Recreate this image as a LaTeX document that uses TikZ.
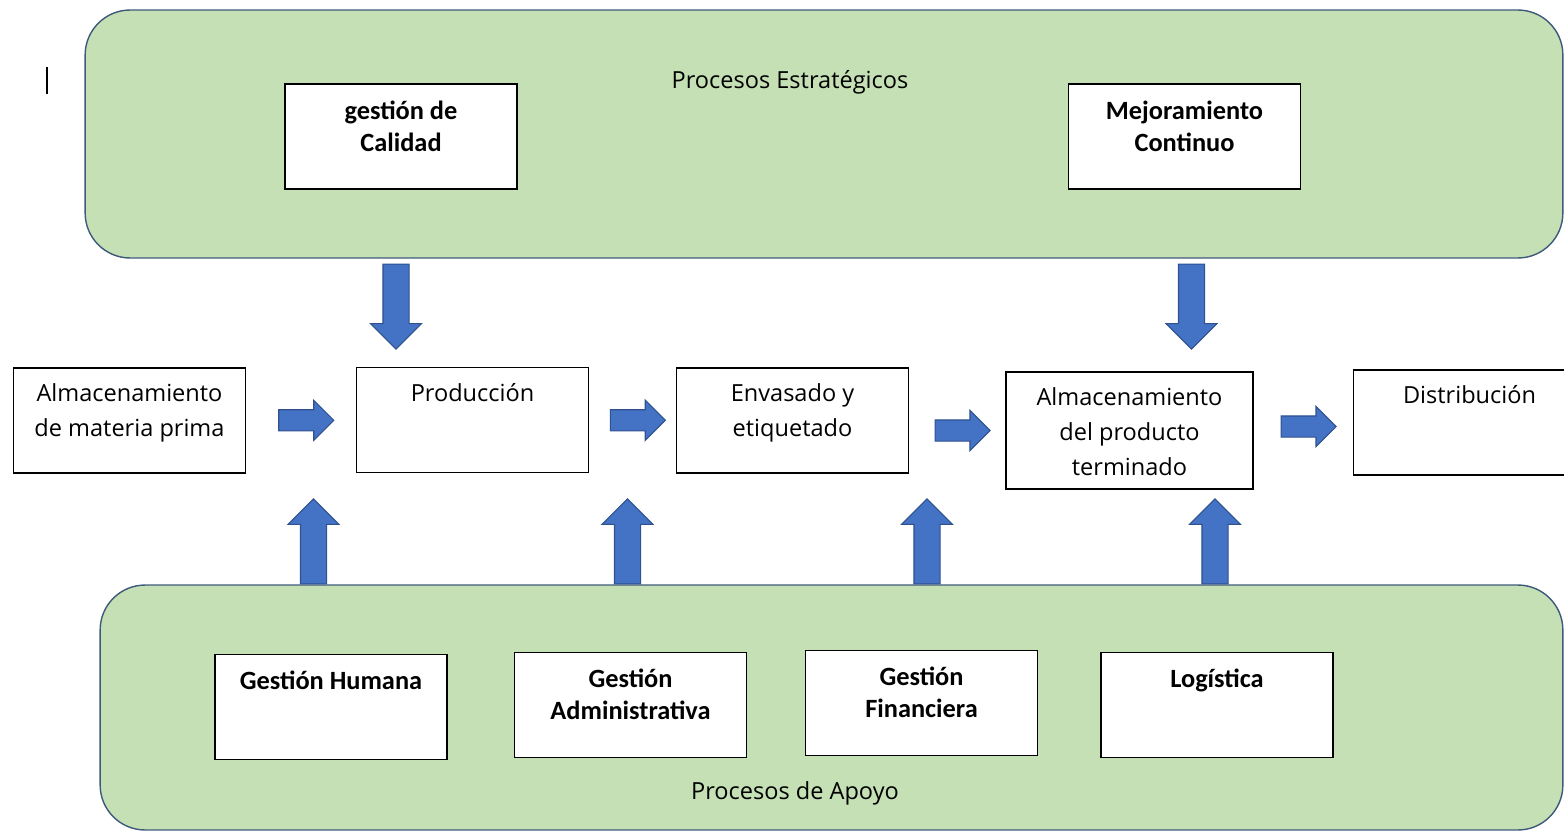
\documentclass[tikz,border=0pt]{standalone}
\usepackage{fontspec}
\setmainfont{Open Sans}
\newfontfamily\calibri{Carlito}
\usetikzlibrary{calc,shapes.arrows}

\definecolor{zonegreen}{HTML}{C5E0B4}
\definecolor{zoneline}{HTML}{3E5A7A}
\definecolor{arrowblue}{HTML}{4472C4}
\definecolor{arrowline}{HTML}{2F528F}

\tikzset{
  zone/.style={draw=zoneline, fill=zonegreen, rounded corners=0.9cm, line width=0.8pt, inner sep=0pt},
  procbox/.style={draw=black, fill=white, line width=0.85pt, inner sep=0pt, minimum width=4.64cm, minimum height=2.1cm},
  boxtext/.style={anchor=north, inner sep=0pt, yshift=-0.32cm, align=center, font=\fontsize{13.4}{19.9}\selectfont},
  boldtext/.style={boxtext, yshift=-0.02cm, font=\calibri\bfseries\fontsize{15}{18.2}\selectfont},
  blockarrow/.style={single arrow, draw=arrowline, fill=arrowblue, line width=0.6pt, inner xsep=0pt, minimum width=0pt},
  rightarrow/.style={blockarrow, inner ysep=0.2cm, single arrow head extend=0.19cm, minimum height=1.1cm},
  vertarrow/.style={blockarrow, inner ysep=0.25cm, single arrow head extend=0.25cm, minimum height=1.7cm},
}

\begin{document}
\begin{tikzpicture}[x=0.02cm,y=-0.02cm]
\useasboundingbox (0,0) rectangle (1564,832);

% Zones
\node[zone, minimum width=29.56cm, minimum height=4.96cm] (estr) at (824,134) {};
\node[font=\fontsize{13.4}{19.9}\selectfont] (estrlbl) at (790,82) {Procesos Estratégicos};
\node[zone, minimum width=29.26cm, minimum height=4.9cm] (apoyo) at (831.5,707.5) {};
\node[font=\fontsize{13.4}{19.9}\selectfont] (apoyolbl) at (795,793) {Procesos de Apoyo};

% Cursor
\draw[line width=0.9pt] (47,67) -- (47,94);

% Strategic boxes
\node[procbox, label={[boldtext]north:{gestión de\\Calidad}}] (gcal) at (401,136.5) {};
\node[procbox, label={[boldtext]north:{Mejoramiento\\Continuo}}] (mejc) at (1184.5,136.5) {};

% Main chain
\node[procbox, label={[boxtext]north:{Almacenamiento\\de materia prima}}] (mp) at (129.5,420.5) {};
\node[procbox, label={[boxtext]north:Producción}] (prod) at (472.5,420) {};
\node[procbox, label={[boxtext]north:{Envasado y\\etiquetado}}] (env) at (792.5,420.5) {};
\node[procbox, minimum width=4.94cm, minimum height=2.34cm, label={[boxtext]north:{Almacenamiento\\del producto\\terminado}}] (alm) at (1129.5,430.5) {};
\node[procbox, label={[boxtext]north:Distribución}] (dist) at (1469.5,422.5) {};

% Support boxes
\node[procbox, label={[boldtext]north:Gestión Humana}] (ghum) at (331,707) {};
\node[procbox, label={[boldtext]north:{Gestión\\Administrativa}}] (gadm) at (630.5,705) {};
\node[procbox, label={[boldtext]north:{Gestión\\Financiera}}] (gfin) at (921.5,703) {};
\node[procbox, label={[boldtext]north:Logística}] (glog) at (1217,705) {};

% Flow arrows
\node[rightarrow] (a1) at ($(mp.east)!0.5!(prod.west)$) {};
\node[rightarrow] (a2) at ($(prod.east)!0.5!(env.west)$) {};
\node[rightarrow] (a3) at ($(env.east |- alm.west)!0.5!(alm.west)$) {};
\node[rightarrow] (a4) at ($(alm.east)!0.5!(dist.west)$) {};

% Strategic arrows
\node[vertarrow, rotate=-90, anchor=tail] (d1) at ($(396,0 |- estr.south)+(0,5)$) {};
\node[vertarrow, rotate=-90, anchor=tail] (d2) at ($(1191.5,0 |- estr.south)+(0,5)$) {};

% Support arrows
\node[vertarrow, rotate=90, anchor=tail] (u1) at (313.5,0 |- apoyo.north) {};
\node[vertarrow, rotate=90, anchor=tail] (u2) at (627.5,0 |- apoyo.north) {};
\node[vertarrow, rotate=90, anchor=tail] (u3) at (927,0 |- apoyo.north) {};
\node[vertarrow, rotate=90, anchor=tail] (u4) at (1215,0 |- apoyo.north) {};
\end{tikzpicture}
\end{document}
